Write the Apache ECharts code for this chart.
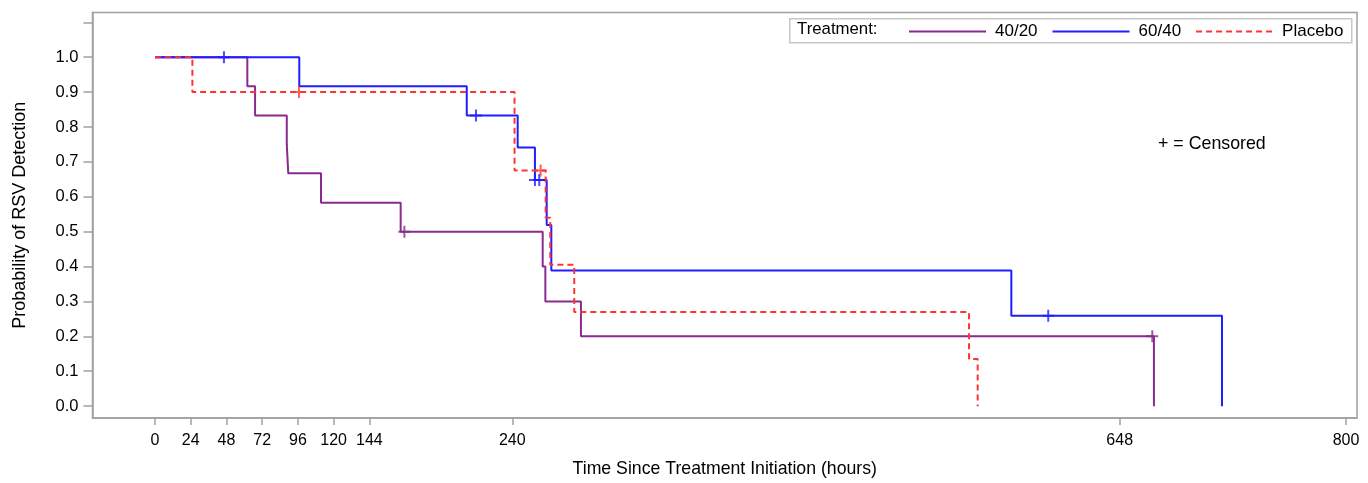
<!DOCTYPE html>
<html>
<head>
<meta charset="utf-8">
<script src="https://cdn.jsdelivr.net/npm/echarts@6/dist/echarts.min.js"></script>
<style>
html,body{margin:0;padding:0;background:#fff;}
#chart{width:1368px;height:483px;}
</style>
</head>
<body>
<div id="chart"></div>
<script>
// ---- Data ----
const groupNames = ['40/20', '60/40', 'Placebo'];

// 40/20 step curve
const t4020 = [0, 62.0, 67.2, 88.5, 89.5, 111.5, 165.0, 260.4, 262.2, 286.1, 671.0];
const s4020 = [1.0, 0.917, 0.833, 0.75, 0.667, 0.583, 0.5, 0.4, 0.3, 0.2, 0.0];
const c4020T = [167.5, 669.9];
const c4020S = [0.5, 0.2];

// 60/40 step curve
const t6040 = [0, 96.9, 209.4, 243.6, 255.2, 263.1, 266.2, 575.2, 716.7];
const s6040 = [1.0, 0.917, 0.833, 0.741, 0.648, 0.519, 0.389, 0.259, 0.0];
const c6040T = [46.3, 215.6, 255.2, 258.1, 600.0];
const c6040S = [1.0, 0.833, 0.648, 0.648, 0.259];

// Placebo step curve
const tPlac = [0, 25.1, 241.5, 262.4, 265.5, 281.6, 546.8, 552.6];
const sPlac = [1.0, 0.9, 0.675, 0.54, 0.405, 0.27, 0.135, 0.0];
const cPlacT = [96.7, 259.0];
const cPlacS = [0.9, 0.675];

// Axis ticks
const xTicks = [0, 24, 48, 72, 96, 120, 144, 240, 648, 800];
const yTicks = [0, 0.1, 0.2, 0.3, 0.4, 0.5, 0.6, 0.7, 0.8, 0.9, 1.0, 1.1];
const yLabels = [0, 0.1, 0.2, 0.3, 0.4, 0.5, 0.6, 0.7, 0.8, 0.9, 1.0];

// ---- Build ----
const colors = ['#8a2a8e', '#1e1eff', '#ff3333'];
const FONT = "'Liberation Sans', Arial, sans-serif";
const AXIS = '#a0a0a0';
const pair = (t, s) => t.map((v, i) => [v, s[i]]);
const plusPath = 'path://M0,5H12V7H0Z M5,0H7V12H5Z';

function stepSeries(name, t, s, color, dashed) {
  return {
    name: name, type: 'line', step: 'end', symbol: 'none',
    data: pair(t, s),
    lineStyle: { color: color, width: 2, type: dashed ? [6, 4] : 'solid' },
    itemStyle: { color: color },
    z: 3
  };
}
function censorSeries(t, s, color) {
  return {
    type: 'scatter', symbol: plusPath, symbolSize: 12,
    data: pair(t, s),
    itemStyle: { color: color },
    silent: true, z: 4
  };
}

const chart = echarts.init(document.getElementById('chart'), null, { renderer: 'canvas' });
chart.setOption({
  animation: false,
  backgroundColor: '#ffffff',
  textStyle: { fontFamily: FONT },
  grid: {
    left: 92.5, right: 11, top: 12.5, bottom: 64,
    show: true, borderColor: AXIS, borderWidth: 1.5, backgroundColor: '#fff'
  },
  legend: {
    data: groupNames,
    left: 908, top: 23,
    itemWidth: 77, itemHeight: 14, itemGap: 14,
    padding: 0,
    itemStyle: { opacity: 0 },
    textStyle: { fontFamily: FONT, fontSize: 17, color: '#000', padding: [0, 0, 0, 4] }
  },
  xAxis: {
    type: 'value', min: -42, max: 807.4,
    name: 'Time Since Treatment Initiation (hours)',
    nameLocation: 'middle', nameGap: 42,
    nameTextStyle: { fontFamily: FONT, fontSize: 17.7, color: '#000' },
    axisLine: { show: true, onZero: false, lineStyle: { color: AXIS, width: 1.5 } },
    axisTick: { show: true, length: 7, lineStyle: { color: AXIS, width: 1.5 }, customValues: xTicks },
    axisLabel: { customValues: xTicks, margin: 15, fontFamily: FONT, fontSize: 16, color: '#000' },
    splitLine: { show: false }
  },
  yAxis: {
    type: 'value', min: -0.034, max: 1.128,
    name: 'Probability of RSV Detection',
    nameLocation: 'middle', nameGap: 63, nameRotate: 90,
    nameTextStyle: { fontFamily: FONT, fontSize: 18, color: '#000' },
    axisLine: { show: true, onZero: false, lineStyle: { color: AXIS, width: 1.5 } },
    axisTick: { show: true, length: 9, lineStyle: { color: AXIS, width: 1.5 }, customValues: yTicks },
    axisLabel: {
      customValues: yLabels, margin: 14, fontFamily: FONT, fontSize: 16.5, color: '#000',
      formatter: v => Number(v).toFixed(1)
    },
    splitLine: { show: false }
  },
  graphic: [
    {
      type: 'rect', left: 789, top: 18, z: 1,
      shape: { width: 562, height: 24 },
      style: { fill: '#fff', stroke: '#c8c8c8', lineWidth: 1.5 }
    },
    {
      type: 'text', left: 797, top: 21, z: 2,
      style: { text: 'Treatment:', font: "16.8px " + FONT, fill: '#000' }
    },
    {
      type: 'text', left: 1158, top: 135, z: 2,
      style: { text: '+ = Censored', font: "17.8px " + FONT, fill: '#000' }
    }
  ],
  series: [
    stepSeries(groupNames[0], t4020, s4020, colors[0], false),
    stepSeries(groupNames[1], t6040, s6040, colors[1], false),
    stepSeries(groupNames[2], tPlac, sPlac, colors[2], true),
    censorSeries(c4020T, c4020S, colors[0]),
    censorSeries(c6040T, c6040S, colors[1]),
    censorSeries(cPlacT, cPlacS, colors[2])
  ]
});
</script>
</body>
</html>
